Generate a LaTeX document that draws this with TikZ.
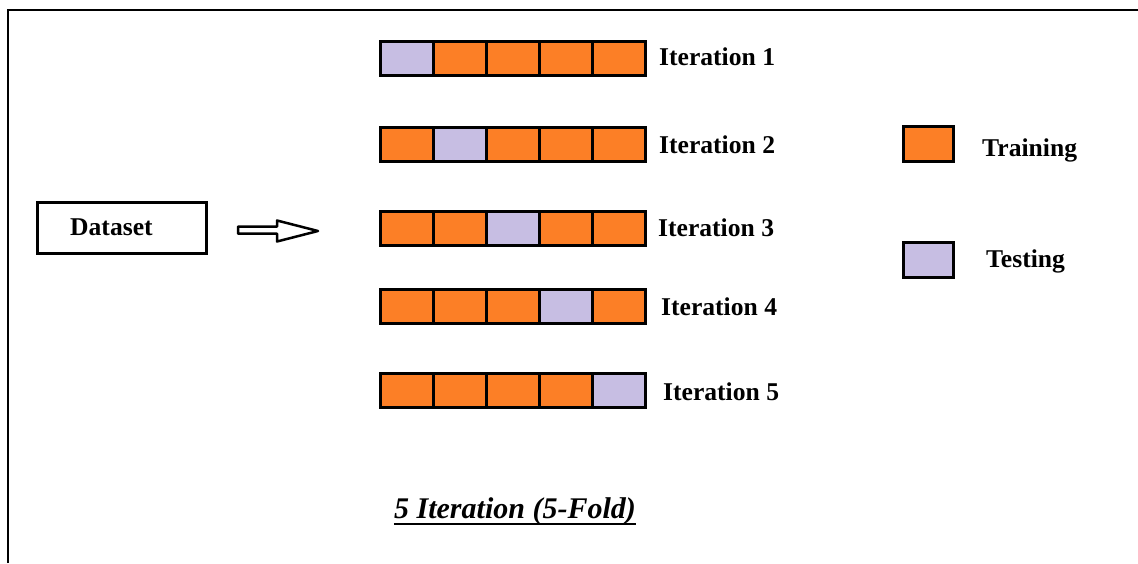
\documentclass[tikz,border=0pt]{standalone}
\usepackage{fontspec}
\setmainfont{Liberation Serif}
\definecolor{trainclr}{RGB}{252,127,38}
\definecolor{testclr}{RGB}{199,190,227}
\begin{document}
\begin{tikzpicture}[x=1pt,y=-1pt,
  cell/.style={draw=black, line width=3pt, minimum width=53.1pt, minimum height=34pt,
               inner sep=0pt, anchor=north west},
  train/.style={cell, fill=trainclr},
  test/.style={cell, fill=testclr},
  lbl/.style={font=\fontsize{25.6}{30}\selectfont\bfseries, inner sep=0pt, anchor=base west},
  keybox/.style={draw=black, line width=3pt, minimum width=50pt, minimum height=35pt, inner sep=0pt},
  dsbox/.style={draw=black, line width=3pt, minimum width=169pt, minimum height=51pt, inner sep=0pt}
]
\useasboundingbox (0,0) rectangle (1138,563);
% page frame (only its top and left edges fall on the page)
\draw[line width=2pt] (8,563) -- (8,10) -- (1138,10);

% input data set
\node[dsbox] (ds) at (122,228) {};
\node[lbl] (dstext) at (70,235) {Dataset};

% block arrow
\draw[line width=2.5pt, line join=round]
  (238,226.5) -- (277,226.5) -- (277,220.5) -- (318,231) -- (277,241.5)
  -- (277,233.5) -- (238,233.5) -- cycle;

% five folds: the grey cell is the test fold of each iteration
\foreach \r/\yc in {1/57, 2/143, 3/226.5, 4/304.5, 5/388.5} {
  \foreach \k in {1,...,5} {
    \ifnum\k=\r
      \node[test] (c\r-\k) at ({378.5+(\k-1)*53.1}, {\yc-17}) {};
    \else
      \node[train] (c\r-\k) at ({378.5+(\k-1)*53.1}, {\yc-17}) {};
    \fi
  }
}
\node[lbl] (it1) at (659,65.5) {Iteration 1};
\node[lbl] (it2) at (659,153.3) {Iteration 2};
\node[lbl] (it3) at (658,236.7) {Iteration 3};
\node[lbl] (it4) at (661,315.7) {Iteration 4};
\node[lbl] (it5) at (663,400) {Iteration 5};

% legend
\node[keybox, fill=trainclr] (ktrain) at (928.5,144) {};
\node[lbl] (ltrain) at (982,156.5) {Training};
\node[keybox, fill=testclr] (ktest) at (928.5,259.5) {};
\node[lbl] (ltest) at (986,267.5) {Testing};

% caption
\node[font=\fontsize{30}{36}\selectfont\bfseries\itshape, inner sep=0pt, anchor=base]
  (cap) at (515,518) {5 Iteration (5-Fold)};
\draw[line width=2pt] ([yshift=-6pt]cap.base west) -- ([yshift=-6pt]cap.base east);
\end{tikzpicture}
\end{document}
